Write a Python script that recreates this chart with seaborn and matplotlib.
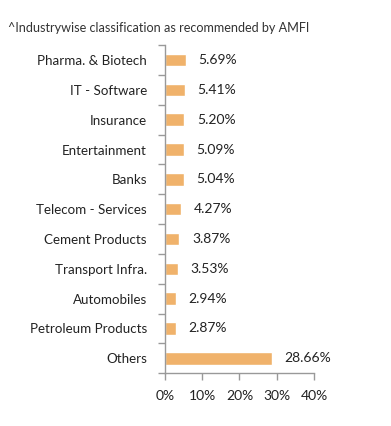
import numpy as np
import pandas as pd
import matplotlib
matplotlib.use("Agg")
import matplotlib.pyplot as plt
import seaborn as sns

industries = ["Pharma. & Biotech", "IT - Software", "Insurance", "Entertainment",
              "Banks", "Telecom - Services", "Cement Products", "Transport Infra.",
              "Automobiles", "Petroleum Products", "Others"]
weights = [5.69, 5.41, 5.20, 5.09, 5.04, 4.27, 3.87, 3.53, 2.94, 2.87, 28.66]
x_ticks = [0, 10, 20, 30, 40]

df = pd.DataFrame({"industry": industries, "weight": weights})

sns.set_style("white")
plt.rcParams["font.family"] = ["Lato", "DejaVu Sans"]

fig = plt.figure(figsize=(3.91, 4.26), dpi=100)
ax = fig.add_axes([0.422, 0.124, 0.381, 0.770])

sns.barplot(data=df, y="industry", x="weight", color="#F0B26B", saturation=1,
            width=0.42, ax=ax)

for c in ax.containers:
    ax.bar_label(c, labels=[f"{v:.2f}%" for v in weights], padding=9,
                 fontsize=10, color="#222222")

ax.set_xlim(0, 40)
ax.set_ylim(len(industries) - 0.5, -0.5)
ax.set_xticks(x_ticks)
ax.set_xticklabels([f"{t}%" for t in x_ticks], fontsize=10, color="#222222")
ax.set_yticks(range(len(industries)))
ax.set_yticklabels(industries, fontsize=9.6, color="#222222")
ax.set_yticks(np.arange(-0.5, len(industries), 1), minor=True)
ax.tick_params(axis="y", which="major", left=False, length=0, pad=13)
ax.tick_params(axis="y", which="minor", left=True, length=5, width=1,
               color="#999999", direction="out")
ax.tick_params(axis="x", bottom=True, length=5, width=1, color="#999999",
               direction="out", pad=7)
ax.set_xlabel("")
ax.set_ylabel("")

for s in ["top", "right"]:
    ax.spines[s].set_visible(False)
for s in ["left", "bottom"]:
    ax.spines[s].set_color("#999999")
    ax.spines[s].set_linewidth(1)

fig.text(0.02, 0.935, "^Industrywise classification as recommended by AMFI",
         fontsize=9.1, color="#333333", va="center")

fig.savefig("out.png", dpi=100, facecolor="white")
